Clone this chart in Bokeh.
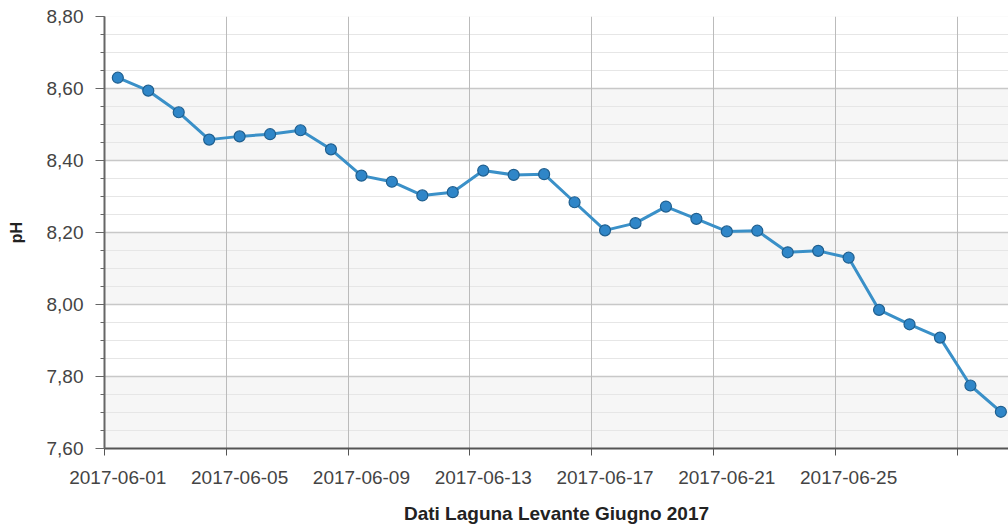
from datetime import datetime, timedelta
from bokeh.plotting import figure
from bokeh.models import (ColumnDataSource, FixedTicker, LinearAxis, DatetimeAxis,
                          Range1d, Grid, DatetimeTickFormatter)
from bokeh.embed import file_html
from bokeh.resources import INLINE

# ---- data ----
dates = ["2017-06-%02d" % d for d in range(1, 31)]
ph = [8.630, 8.594, 8.534, 8.458, 8.467, 8.473, 8.484, 8.431, 8.358, 8.341,
      8.303, 8.312, 8.372, 8.360, 8.362, 8.284, 8.206, 8.226, 8.272, 8.238,
      8.203, 8.205, 8.145, 8.149, 8.130, 7.985, 7.945, 7.908, 7.775, 7.702]
y_ticks = [7.6, 7.8, 8.0, 8.2, 8.4, 8.6, 8.8]
y_tick_labels = ["7,60", "7,80", "8,00", "8,20", "8,40", "8,60", "8,80"]
x_label_dates = ["2017-06-01", "2017-06-05", "2017-06-09", "2017-06-13",
                 "2017-06-17", "2017-06-21", "2017-06-25"]
x_grid_dates = x_label_dates + ["2017-06-29"]
x_title = "Dati Laguna Levante Giugno 2017"
y_title = "pH"

# ---- layout / style ----
W, H = 1008, 529
LEFT, RIGHT, TOP, BOTTOM = 104, 0, 16, 81
frame_w = W - LEFT - RIGHT
px_per_day = 30.45
shift = timedelta(hours=10.5)  # grid marks sit a bit before each sample

x_dt = [datetime.strptime(d, "%Y-%m-%d") for d in dates]
start = datetime.strptime(dates[0], "%Y-%m-%d") - shift
end = start + timedelta(days=frame_w / px_per_day)

def ms(dt):
    return (dt - datetime(1970, 1, 1)).total_seconds() * 1000.0

grid_ms = [ms(datetime.strptime(d, "%Y-%m-%d") - shift) for d in x_grid_dates]
label_ms = [ms(datetime.strptime(d, "%Y-%m-%d")) for d in x_label_dates]

src = ColumnDataSource(dict(x=x_dt, y=ph))

p = figure(width=W, height=H, output_backend="svg", toolbar_location=None,
           x_axis_type=None, y_axis_location=None,
           x_range=Range1d(start, end), y_range=Range1d(7.6, 8.8),
           min_border_left=LEFT, min_border_right=RIGHT,
           min_border_top=TOP, min_border_bottom=BOTTOM)
p.outline_line_color = None
p.background_fill_color = "#f6f6f6"
p.border_fill_color = "white"

FONT = "Liberation Sans"
TXT = "#444444"

# y axis
minor = [round(7.6 + 0.05 * i, 2) for i in range(25)]
yax = LinearAxis(ticker=FixedTicker(ticks=y_ticks, minor_ticks=minor))
yax.major_label_overrides = {t: l for t, l in zip(y_ticks, y_tick_labels)}
yax.axis_label = y_title
yax.axis_label_text_font = FONT
yax.axis_label_text_font_style = "bold"
yax.axis_label_text_font_size = "16px"
yax.axis_label_text_color = "#222222"
yax.axis_label_standoff = 19
yax.major_label_text_font = FONT
yax.major_label_text_font_size = "19px"
yax.major_label_text_color = TXT
yax.major_label_standoff = 12
yax.axis_line_color = "#666666"
yax.axis_line_width = 2
yax.major_tick_out = 9
yax.major_tick_in = 0
yax.major_tick_line_color = "#666666"
yax.minor_tick_out = 4
yax.minor_tick_in = 0
yax.minor_tick_line_color = "#666666"
p.add_layout(yax, "left")

# x axis: tick marks
xax1 = DatetimeAxis(ticker=FixedTicker(ticks=grid_ms))
xax1.major_label_text_font_size = "0px"
xax1.major_label_standoff = 0
xax1.major_label_overrides = {t: "" for t in grid_ms}
xax1.axis_line_color = "#555555"
xax1.axis_line_width = 2
xax1.major_tick_out = 7
xax1.major_tick_in = 0
xax1.major_tick_line_color = "#555555"
xax1.minor_tick_line_color = None
p.add_layout(xax1, "below")

# x axis: labels
xax2 = DatetimeAxis(ticker=FixedTicker(ticks=label_ms),
                    formatter=DatetimeTickFormatter(days="%Y-%m-%d", months="%Y-%m-%d",
                                                    hours="%Y-%m-%d"))
xax2.axis_line_color = None
xax2.major_tick_line_color = None
xax2.minor_tick_line_color = None
xax2.major_label_text_font = FONT
xax2.major_label_text_font_size = "19px"
xax2.major_label_text_color = TXT
xax2.major_label_standoff = 9
xax2.axis_label = x_title
xax2.axis_label_text_font = FONT
xax2.axis_label_text_font_style = "bold"
xax2.axis_label_text_font_size = "19px"
xax2.axis_label_text_color = "#222222"
xax2.axis_label_standoff = 16
p.add_layout(xax2, "below")

# grids: light-grey background, white bands on alternate intervals
ygrid = Grid(dimension=1, ticker=FixedTicker(ticks=y_ticks, minor_ticks=minor),
             grid_line_color="#c8c8c8", grid_line_width=1.5,
             minor_grid_line_color="#e6e6e6", minor_grid_line_width=1,
             band_fill_color="white", band_fill_alpha=1.0)
xgrid = Grid(dimension=0, ticker=FixedTicker(ticks=grid_ms),
             grid_line_color="#bbbbbb", grid_line_width=1)
p.add_layout(ygrid)
p.add_layout(xgrid)

p.line("x", "y", source=src, line_color="#3a90c8", line_width=3)
p.scatter("x", "y", source=src, size=11, fill_color="#2f86c8",
          line_color="#1f5f8f", line_width=1.2)

open("out.html", "w").write(file_html(p, INLINE))
